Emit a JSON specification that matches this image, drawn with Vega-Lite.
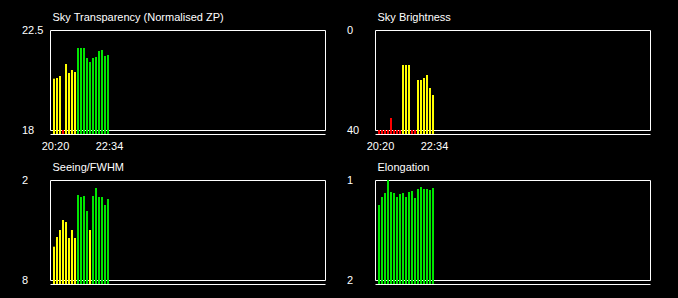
{
  "$schema": "https://vega.github.io/schema/vega-lite/v6.json",
  "background": "black",
  "autosize": {"type": "none"},
  "padding": {"left": 50, "top": 30, "right": 628, "bottom": 268},
  "config": {
    "view": {"stroke": "white", "strokeWidth": 1},
    "scale": {"continuousPadding": 0},
    "axis": {"labelColor": "white", "labelFont": "Liberation Sans", "labelFontSize": 11, "ticks": false, "tickSize": 0, "grid": false, "labelFlush": false, "labelOverlap": false, "labelBound": false, "domainColor": "white", "domainWidth": 1,
             "titleColor": "white", "titleFont": "Liberation Sans", "titleFontSize": 11, "titleFontWeight": "normal"}
  },
  "datasets": {
    "obs": [
      {"t": "2024-01-01T20:20:00", "zp": 20.31, "zpq": "fair", "sb": 40, "sbq": "poor", "fw": 6.0, "fwq": "fair", "el": 1.25, "elq": "good"},
      {"t": "2024-01-01T20:27:26.667", "zp": 20.34, "zpq": "fair", "sb": 40, "sbq": "poor", "fw": 5.42, "fwq": "fair", "el": 1.17, "elq": "good"},
      {"t": "2024-01-01T20:34:53.333", "zp": 20.43, "zpq": "fair", "sb": 40, "sbq": "poor", "fw": 5.0, "fwq": "fair", "el": 1.13, "elq": "good"},
      {"t": "2024-01-01T20:42:20", "zp": 18.0, "zpq": "poor", "sb": 40, "sbq": "poor", "fw": 4.4, "fwq": "fair", "el": 1.0, "elq": "good"},
      {"t": "2024-01-01T20:49:46.667", "zp": 20.97, "zpq": "fair", "sb": 35.2, "sbq": "poor", "fw": 4.52, "fwq": "fair", "el": 1.12, "elq": "good"},
      {"t": "2024-01-01T20:57:13.333", "zp": 20.57, "zpq": "fair", "sb": 40, "sbq": "poor", "fw": 5.48, "fwq": "fair", "el": 1.13, "elq": "good"},
      {"t": "2024-01-01T21:04:40", "zp": 20.70, "zpq": "fair", "sb": 40, "sbq": "poor", "fw": 5.0, "fwq": "fair", "el": 1.17, "elq": "good"},
      {"t": "2024-01-01T21:12:06.667", "zp": 20.61, "zpq": "fair", "sb": 40, "sbq": "poor", "fw": 5.48, "fwq": "fair", "el": 1.14, "elq": "good"},
      {"t": "2024-01-01T21:19:33.333", "zp": 21.69, "zpq": "good", "sb": 14, "sbq": "fair", "fw": 2.9, "fwq": "good", "el": 1.13, "elq": "good"},
      {"t": "2024-01-01T21:27:00", "zp": 21.69, "zpq": "good", "sb": 14, "sbq": "fair", "fw": 3.02, "fwq": "good", "el": 1.17, "elq": "good"},
      {"t": "2024-01-01T21:34:26.667", "zp": 21.69, "zpq": "good", "sb": 14, "sbq": "fair", "fw": 2.96, "fwq": "good", "el": 1.12, "elq": "good"},
      {"t": "2024-01-01T21:41:53.333", "zp": 21.24, "zpq": "good", "sb": 40, "sbq": "poor", "fw": 3.86, "fwq": "good", "el": 1.11, "elq": "good"},
      {"t": "2024-01-01T21:49:20", "zp": 21.06, "zpq": "good", "sb": 40, "sbq": "poor", "fw": 5.0, "fwq": "fair", "el": 1.18, "elq": "good"},
      {"t": "2024-01-01T21:56:46.667", "zp": 21.24, "zpq": "good", "sb": 20, "sbq": "fair", "fw": 2.96, "fwq": "good", "el": 1.09, "elq": "good"},
      {"t": "2024-01-01T22:04:13.333", "zp": 21.29, "zpq": "good", "sb": 20, "sbq": "fair", "fw": 2.48, "fwq": "good", "el": 1.07, "elq": "good"},
      {"t": "2024-01-01T22:11:40", "zp": 21.56, "zpq": "good", "sb": 19.2, "sbq": "fair", "fw": 3.02, "fwq": "good", "el": 1.09, "elq": "good"},
      {"t": "2024-01-01T22:19:06.667", "zp": 21.60, "zpq": "good", "sb": 18, "sbq": "fair", "fw": 3.02, "fwq": "good", "el": 1.09, "elq": "good"},
      {"t": "2024-01-01T22:26:33.333", "zp": 21.33, "zpq": "good", "sb": 23.2, "sbq": "fair", "fw": 3.5, "fwq": "good", "el": 1.10, "elq": "good"},
      {"t": "2024-01-01T22:34:00", "zp": 21.38, "zpq": "good", "sb": 26, "sbq": "fair", "fw": 3.14, "fwq": "good", "el": 1.08, "elq": "good"}
    ]
  },
  "columns": 2,
  "spacing": {"row": 50, "column": 50},
  "bounds": "flush",
  "concat": [
    {
      "width": 275, "height": 100,
      "data": {"name": "obs"},
      "mark": {"type": "bar", "width": 2, "orient": "vertical"},
      "encoding": {
        "x": {"field": "t", "type": "temporal",
              "scale": {"domain": [{"year": 2024, "month": 1, "date": 1, "hours": 20, "minutes": 10, "seconds": 4, "milliseconds": 444}, {"year": 2024, "month": 1, "date": 2, "hours": 7, "minutes": 32, "seconds": 28, "milliseconds": 889}], "nice": false, "padding": 0},
              "axis": {"title": null, "values": [{"year": 2024, "month": 1, "date": 1, "hours": 20, "minutes": 20}, {"year": 2024, "month": 1, "date": 1, "hours": 22, "minutes": 34}], "format": "%H:%M", "offset": 4, "labelPadding": 6.5, "labelOffset": 1, "domain": true}},
        "y": {"field": "zp", "type": "quantitative", "scale": {"domain": [18, 22.5], "zero": false, "nice": false},
              "axis": {"title": "Sky Transparency (Normalised ZP)", "titleAngle": 0, "titleAlign": "left", "titleBaseline": "alphabetic", "titleX": 2, "titleY": -9.5,
                       "values": [18, 22.5], "labelExpr": "datum.value + ''", "labelAlign": "left", "labelPadding": 28.5, "domain": false}},
        "y2": {"datum": 17.82},
        "color": {"field": "zpq", "type": "nominal", "scale": {"domain": ["good", "fair", "poor"], "range": ["#00e600", "#ffff00", "#ff0000"]}, "legend": null}
      }
    },
    {
      "width": 275, "height": 100,
      "data": {"name": "obs"},
      "mark": {"type": "bar", "width": 2, "orient": "vertical"},
      "encoding": {
        "x": {"field": "t", "type": "temporal",
              "scale": {"domain": [{"year": 2024, "month": 1, "date": 1, "hours": 20, "minutes": 10, "seconds": 4, "milliseconds": 444}, {"year": 2024, "month": 1, "date": 2, "hours": 7, "minutes": 32, "seconds": 28, "milliseconds": 889}], "nice": false, "padding": 0},
              "axis": {"title": null, "values": [{"year": 2024, "month": 1, "date": 1, "hours": 20, "minutes": 20}, {"year": 2024, "month": 1, "date": 1, "hours": 22, "minutes": 34}], "format": "%H:%M", "offset": 4, "labelPadding": 6.5, "labelOffset": 1, "domain": true}},
        "y": {"field": "sb", "type": "quantitative", "scale": {"domain": [40, 0], "zero": false, "nice": false},
              "axis": {"title": "Sky Brightness", "titleAngle": 0, "titleAlign": "left", "titleBaseline": "alphabetic", "titleX": 2, "titleY": -9.5,
                       "values": [0, 40], "labelExpr": "datum.value + ''", "labelAlign": "left", "labelPadding": 28.5, "domain": false}},
        "y2": {"datum": 41.6},
        "color": {"field": "sbq", "type": "nominal", "scale": {"domain": ["good", "fair", "poor"], "range": ["#00e600", "#ffff00", "#ff0000"]}, "legend": null}
      }
    },
    {
      "width": 275, "height": 100,
      "data": {"name": "obs"},
      "mark": {"type": "bar", "width": 2, "orient": "vertical"},
      "encoding": {
        "x": {"field": "t", "type": "temporal",
              "scale": {"domain": [{"year": 2024, "month": 1, "date": 1, "hours": 20, "minutes": 10, "seconds": 4, "milliseconds": 444}, {"year": 2024, "month": 1, "date": 2, "hours": 7, "minutes": 32, "seconds": 28, "milliseconds": 889}], "nice": false, "padding": 0},
              "axis": {"title": null, "labels": false, "offset": 4, "domain": true}},
        "y": {"field": "fw", "type": "quantitative", "scale": {"domain": [8, 2], "zero": false, "nice": false},
              "axis": {"title": "Seeing/FWHM", "titleAngle": 0, "titleAlign": "left", "titleBaseline": "alphabetic", "titleX": 2, "titleY": -9.5,
                       "values": [2, 8], "labelExpr": "datum.value + ''", "labelAlign": "left", "labelPadding": 28.5, "domain": false}},
        "y2": {"datum": 8.24},
        "color": {"field": "fwq", "type": "nominal", "scale": {"domain": ["good", "fair", "poor"], "range": ["#00e600", "#ffff00", "#ff0000"]}, "legend": null}
      }
    },
    {
      "width": 275, "height": 100,
      "data": {"name": "obs"},
      "mark": {"type": "bar", "width": 2, "orient": "vertical"},
      "encoding": {
        "x": {"field": "t", "type": "temporal",
              "scale": {"domain": [{"year": 2024, "month": 1, "date": 1, "hours": 20, "minutes": 10, "seconds": 4, "milliseconds": 444}, {"year": 2024, "month": 1, "date": 2, "hours": 7, "minutes": 32, "seconds": 28, "milliseconds": 889}], "nice": false, "padding": 0},
              "axis": {"title": null, "labels": false, "offset": 4, "domain": true}},
        "y": {"field": "el", "type": "quantitative", "scale": {"domain": [2, 1], "zero": false, "nice": false},
              "axis": {"title": "Elongation", "titleAngle": 0, "titleAlign": "left", "titleBaseline": "alphabetic", "titleX": 2, "titleY": -9.5,
                       "values": [1, 2], "labelExpr": "datum.value + ''", "labelAlign": "left", "labelPadding": 28.5, "domain": false}},
        "y2": {"datum": 2.04},
        "color": {"field": "elq", "type": "nominal", "scale": {"domain": ["good", "fair", "poor"], "range": ["#00e600", "#ffff00", "#ff0000"]}, "legend": null}
      }
    }
  ]
}
